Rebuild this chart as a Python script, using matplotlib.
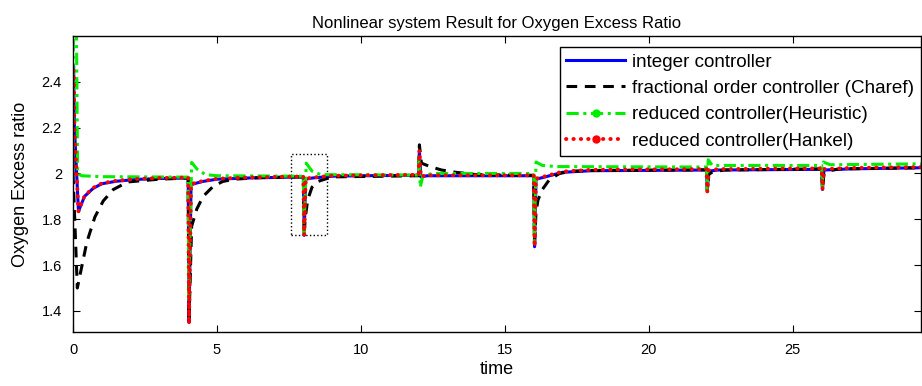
import matplotlib
matplotlib.use("Agg")
import matplotlib.pyplot as plt
from matplotlib.lines import Line2D
from matplotlib.patches import Rectangle

plt.rcParams['font.family'] = ['Liberation Sans', 'DejaVu Sans']

# ---- data ----
t_int = [0, 0.02, 0.05, 0.19, 0.4, 0.7, 1.0, 1.5, 2.2, 3.0, 3.99,
         4.0, 4.03, 4.1, 4.2, 4.5, 5.0, 6.0, 7.99,
         8.0, 8.03, 8.08, 8.3, 9.0, 10.0, 11.99,
         12.0, 12.03, 12.08, 12.3, 13.0, 15.99,
         16.0, 16.03, 16.08, 16.4, 17.0, 18.0, 21.99,
         22.0, 22.03, 22.08, 22.4, 25.99,
         26.0, 26.03, 26.08, 27.0, 29.5]
v_int = [2.0, 2.47, 2.2, 1.835, 1.9, 1.935, 1.955, 1.966, 1.974, 1.978, 1.98,
         1.98, 1.35, 1.95, 1.955, 1.965, 1.975, 1.98, 1.985,
         1.985, 1.73, 1.975, 1.98, 1.988, 1.99, 1.992,
         1.992, 2.10, 1.985, 1.99, 1.99, 1.99,
         1.99, 1.68, 1.975, 1.985, 2.005, 2.012, 2.015,
         2.015, 1.925, 2.01, 2.015, 2.018,
         2.018, 1.93, 2.015, 2.02, 2.025]

t_frac = [0, 0.15, 0.48, 0.76, 1.05, 1.4, 1.9, 3.0, 3.99,
          4.0, 4.03, 4.12, 4.3, 4.52, 4.87, 5.2, 5.6, 6.5, 7.99,
          8.0, 8.03, 8.06, 8.15, 8.3, 8.5, 9.0, 11.99,
          12.0, 12.03, 12.1, 12.4, 12.8, 13.3, 14.0, 15.99,
          16.0, 16.03, 16.08, 16.15, 16.3, 16.55, 16.9, 17.3, 18.0, 21.99,
          22.0, 22.03, 22.08, 22.2, 22.6, 25.99,
          26.0, 26.03, 26.08, 26.2, 26.6, 29.5]
v_frac = [2.0, 1.50, 1.70, 1.81, 1.88, 1.93, 1.963, 1.975, 1.98,
          1.98, 1.36, 1.77, 1.845, 1.90, 1.944, 1.965, 1.975, 1.982, 1.985,
          1.985, 1.73, 1.80, 1.885, 1.94, 1.965, 1.985, 1.99,
          1.99, 2.125, 2.045, 2.03, 2.015, 2.005, 1.995, 1.992,
          1.992, 1.70, 1.83, 1.885, 1.93, 1.974, 2.0, 2.01, 2.013, 2.016,
          2.016, 1.925, 1.997, 2.005, 2.015, 2.02,
          2.02, 1.93, 2.0, 2.01, 2.02, 2.025]

t_heur = [0, 0.01, 0.12, 0.16, 0.3, 1.0, 3.99,
          4.0, 4.02, 4.12, 4.3, 4.6, 5.0, 7.99,
          8.0, 8.02, 8.1, 8.3, 8.6, 11.99,
          12.0, 12.02, 12.06, 12.15, 12.5, 15.99,
          16.0, 16.02, 16.08, 16.3, 16.8, 21.99,
          22.0, 22.02, 22.06, 22.2, 25.99,
          26.0, 26.02, 26.06, 26.3, 29.5]
v_heur = [2.0, 2.63, 2.63, 2.0, 1.99, 1.986, 1.984,
          1.984, 1.45, 2.048, 2.02, 1.995, 1.99, 1.988,
          1.988, 1.74, 2.045, 2.01, 1.995, 1.993,
          1.993, 2.08, 1.94, 1.99, 2.0, 2.0,
          2.0, 1.70, 2.05, 2.035, 2.03, 2.028,
          2.028, 1.93, 2.06, 2.035, 2.035,
          2.035, 1.935, 2.05, 2.038, 2.042]

t_hank = [0, 0.02, 0.05, 0.19, 0.4, 0.7, 1.0, 1.5, 2.2, 3.0, 3.99,
          4.0, 4.03, 4.1, 4.2, 4.5, 5.0, 6.0, 7.99,
          8.0, 8.03, 8.08, 8.3, 9.0, 10.0, 11.99,
          12.0, 12.03, 12.08, 12.3, 13.0, 15.99,
          16.0, 16.03, 16.08, 16.4, 17.0, 18.0, 21.99,
          22.0, 22.03, 22.08, 22.4, 25.99,
          26.0, 26.03, 26.08, 27.0, 29.5]
v_hank = [2.0, 2.45, 2.2, 1.835, 1.902, 1.937, 1.957, 1.968, 1.976, 1.98, 1.982,
          1.982, 1.343, 1.952, 1.957, 1.967, 1.977, 1.982, 1.987,
          1.987, 1.73, 1.977, 1.982, 1.99, 1.992, 1.994,
          1.994, 2.10, 1.987, 1.992, 1.992, 1.992,
          1.992, 1.68, 1.977, 1.988, 2.008, 2.016, 2.019,
          2.019, 1.92, 2.014, 2.019, 2.022,
          2.022, 1.93, 2.019, 2.024, 2.028]

labels = ['integer controller',
          'fractional order controller (Charef)',
          'reduced controller(Heuristic)',
          'reduced controller(Hankel)']

box_t = [7.57, 8.82]
box_v = [1.73, 2.087]

xticks = [0, 5, 10, 15, 20, 25]
yticks = [1.4, 1.6, 1.8, 2.0, 2.2, 2.4]
ytick_labels = ['1.4', '1.6', '1.8', '2', '2.2', '2.4']

# ---- figure ----
fig = plt.figure(figsize=(9.22, 3.86), dpi=100)
ax = fig.add_axes([73/922, 54/386, 848/922, 296/386])

ax.plot(t_int, v_int, color='#0000ff', lw=2.2, ls='-')
ax.plot(t_frac, v_frac, color='black', lw=2.2, ls=(0, (3.5, 2.5)))
ax.plot(t_heur, v_heur, color='#00ee00', lw=2.2, ls=(0, (4, 1.5, 1, 1.5)))
ax.plot(t_hank, v_hank, color='#ff0000', lw=2.8, ls=(0, (0.1, 1.8)),
        dash_capstyle='round')

ax.add_patch(Rectangle((box_t[0], box_v[0]), box_t[1] - box_t[0], box_v[1] - box_v[0],
                       fill=False, ls=':', lw=1.0, ec='black'))

ax.set_xlim(0, 29.45)
ax.set_ylim(1.308, 2.6)
ax.set_xticks(xticks)
ax.set_xticklabels([str(x) for x in xticks])
ax.set_yticks(yticks)
ax.set_yticklabels(ytick_labels)
ax.tick_params(direction='in', top=True, right=True, length=5, width=0.8,
               labelsize=10.5, pad=8)
for s in ax.spines.values():
    s.set_linewidth(1.0)

ax.set_title('Nonlinear system Result for Oxygen Excess Ratio', fontsize=12, pad=6)
ax.set_xlabel('time', fontsize=13, labelpad=3)
ax.set_ylabel('Oxygen Excess ratio', fontsize=13, labelpad=9)

handles = [
    Line2D([], [], color='#0000ff', lw=2.2, ls='-'),
    Line2D([], [], color='black', lw=2.2, ls=(0, (3.5, 2.5))),
    Line2D([], [], color='#00ee00', lw=2.2, ls=(0, (4, 1.5, 1, 1.5)),
           marker='o', ms=5, mfc='#00ee00', mec='#00ee00'),
    Line2D([], [], color='#ff0000', lw=2.8, ls=(0, (0.1, 1.8)), dash_capstyle='round',
           marker='o', ms=5, mfc='#ff0000', mec='#ff0000'),
]
leg = ax.legend(handles, labels, loc='upper right', bbox_to_anchor=(1.0, 0.963),
                fontsize=13.6, numpoints=1, handlelength=3.1, handletextpad=0.4,
                labelspacing=0.48, borderpad=0.35, borderaxespad=0.0,
                fancybox=False, framealpha=1.0, edgecolor='black')
leg.get_frame().set_linewidth(1.0)

fig.savefig('out.png', dpi=100)
